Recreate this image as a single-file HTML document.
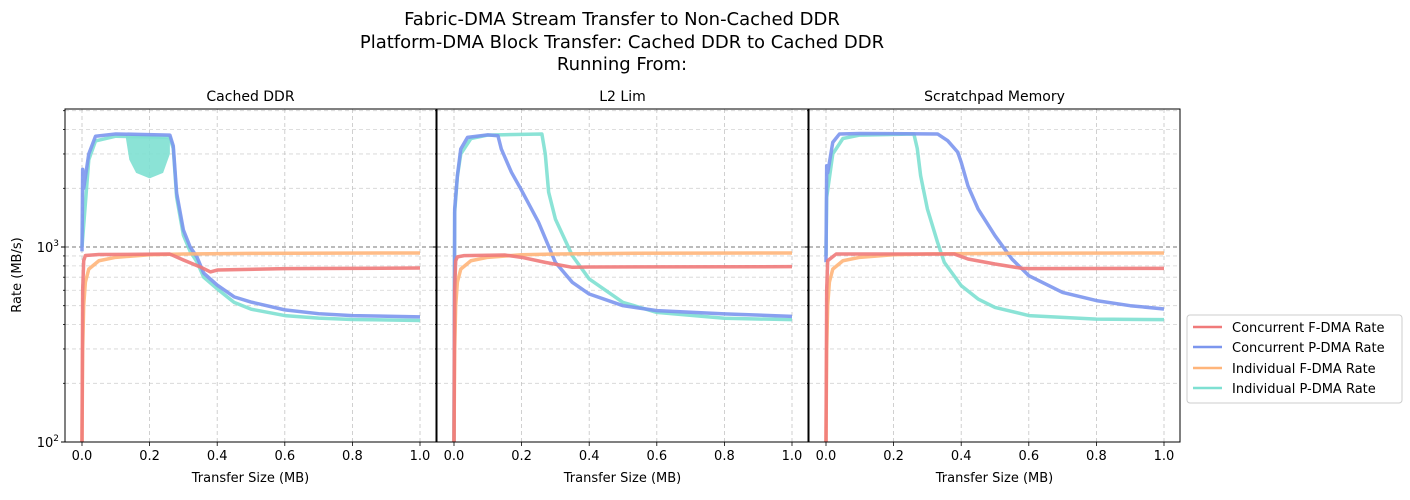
<!DOCTYPE html>
<html><head><meta charset="utf-8"><style>
body{margin:0;background:#fff;}
svg{font-family:"DejaVu Sans","Liberation Sans",sans-serif;}
</style></head><body>
<svg id="chart" width="1410" height="495" viewBox="0 0 1410 495" xmlns="http://www.w3.org/2000/svg">
<text x="622" y="25" font-size="18" text-anchor="middle">Fabric-DMA Stream Transfer to Non-Cached DDR</text>
<text x="622" y="48" font-size="18" text-anchor="middle">Platform-DMA Block Transfer: Cached DDR to Cached DDR</text>
<text x="622" y="70" font-size="18" text-anchor="middle">Running From:</text>
<text transform="translate(21,275) rotate(-90)" font-size="13" text-anchor="middle">Rate (MB/s)</text>
<g id="panels"></g>
<g>
<rect x="1187" y="315" width="215" height="88" rx="3" fill="#fff" stroke="#ccc"/>
<line x1="1193" y1="327" x2="1222" y2="327" stroke="#f07a7a" stroke-width="2.5"/>
<text x="1232" y="332" font-size="13">Concurrent F-DMA Rate</text>
<line x1="1193" y1="347" x2="1222" y2="347" stroke="#7c96ee" stroke-width="2.5"/>
<text x="1232" y="352" font-size="13">Concurrent P-DMA Rate</text>
<line x1="1193" y1="368" x2="1222" y2="368" stroke="#ffb57a" stroke-width="2.5"/>
<text x="1232" y="373" font-size="13">Individual F-DMA Rate</text>
<line x1="1193" y1="388" x2="1222" y2="388" stroke="#7ee0d2" stroke-width="2.5"/>
<text x="1232" y="393" font-size="13">Individual P-DMA Rate</text>
</g>
</svg>
<script>
const panelTitles = ["Cached DDR","L2 Lim","Scratchpad Memory"];
const xTicks = [0,0.2,0.4,0.6,0.8,1.0];
const xTickLabels = ["0.0","0.2","0.4","0.6","0.8","1.0"];
const indF_x = [0,0.002,0.005,0.01,0.02,0.05,0.1,0.2,0.3,0.5,1.0];
const indF_y = [100,300,500,660,770,850,885,913,920,928,932];
const p1cF_x = [0,0.002,0.005,0.01,0.05,0.26,0.3,0.35,0.38,0.4,0.6,1.0];
const p1cF_y = [100,600,850,905,915,920,858,790,745,762,775,780];
const p1cP_x = [0,0.002,0.005,0.02,0.04,0.1,0.26,0.27,0.28,0.3,0.32,0.34,0.36,0.4,0.45,0.5,0.6,0.7,0.8,1.0];
const p1cP_y = [950,2500,2000,3000,3700,3800,3750,3300,1890,1222,1000,890,735,638,555,522,476,455,445,438];
const p1iP_x = [0,0.02,0.04,0.1,0.26,0.27,0.28,0.3,0.32,0.34,0.36,0.4,0.45,0.5,0.6,0.7,0.8,1.0];
const p1iP_y = [1000,2800,3500,3700,3650,3200,1800,1150,950,840,700,610,520,480,445,432,425,420];
const p1band_x = [0.13,0.14,0.16,0.2,0.24,0.26];
const p1band_hi = [3700,3700,3700,3700,3650,3600];
const p1band_lo = [3600,2800,2400,2250,2400,3000];
const p2cF_x = [0,0.002,0.005,0.01,0.03,0.15,0.2,0.27,0.35,0.4,1.0];
const p2cF_y = [100,600,850,890,903,910,885,834,787,790,793];
const p2cP_x = [0,0.002,0.01,0.02,0.04,0.1,0.13,0.14,0.17,0.2,0.25,0.3,0.35,0.4,0.5,0.6,0.8,1.0];
const p2cP_y = [100,1566,2320,3180,3650,3760,3720,3180,2415,1950,1340,834,659,574,500,472,454,441];
const p2iP_x = [0,0.002,0.01,0.02,0.05,0.1,0.26,0.27,0.28,0.3,0.35,0.4,0.5,0.6,0.8,1.0];
const p2iP_y = [100,1500,2300,3000,3600,3750,3800,3000,1910,1390,903,686,520,462,431,424];
const p3cF_x = [0,0.002,0.005,0.03,0.38,0.42,0.5,0.58,0.6,1.0];
const p3cF_y = [100,600,850,920,920,868,818,777,775,777];
const p3cP_x = [0,0.002,0.005,0.02,0.04,0.1,0.33,0.36,0.39,0.4,0.42,0.45,0.5,0.55,0.6,0.7,0.8,0.9,1.0];
const p3cP_y = [835,2610,2400,3440,3800,3820,3800,3510,3060,2720,2060,1566,1143,868,713,585,531,500,481];
const p3iP_x = [0,0.002,0.02,0.05,0.1,0.26,0.27,0.28,0.3,0.33,0.35,0.4,0.45,0.5,0.6,0.8,1.0];
const p3iP_y = [900,1800,3000,3600,3750,3800,3200,2320,1566,1057,834,634,541,490,445,427,424];

const NS="http://www.w3.org/2000/svg";
const panelsG=document.getElementById('panels');
const lefts=[65,437,809], W=371, TOP=109, BOT=442;
const yLogTop=3+(247-TOP)/195;
function yScale(v){return BOT-(Math.log10(v)-2)/(yLogTop-2)*(BOT-TOP);}
function mk(tag,attrs,parent){const e=document.createElementNS(NS,tag);for(const k in attrs)e.setAttribute(k,attrs[k]);parent.appendChild(e);return e;}
const series=[
 [[p1cF_x,p1cF_y],[p1cP_x,p1cP_y],[indF_x,indF_y],[p1iP_x,p1iP_y]],
 [[p2cF_x,p2cF_y],[p2cP_x,p2cP_y],[indF_x,indF_y],[p2iP_x,p2iP_y]],
 [[p3cF_x,p3cF_y],[p3cP_x,p3cP_y],[indF_x,indF_y],[p3iP_x,p3iP_y]]];
const colors=["#f07a7a","#7c96ee","#ffb57a","#7ee0d2"];
const names=["concurrent-fdma-line","concurrent-pdma-line","individual-fdma-line","individual-pdma-line"];
const order=[3,1,2,0];
lefts.forEach((L,pi)=>{
 const g=mk('g',{},panelsG);
 
 
 const xs=v=>L+17+v*338;
 const t=mk('text',{x:L+W/2,y:101,'font-size':14,'text-anchor':'middle'},g);
 t.textContent=panelTitles[pi];
 
 
 const minors=[200,300,400,500,600,700,800,900,2000,3000,4000,5000];
 minors.forEach(v=>{const y=yScale(v);if(y<TOP)return;
  mk('line',{x1:L,x2:L+W,y1:y,y2:y,stroke:'#d4d4d4','stroke-dasharray':'4,3','stroke-width':0.8},g);
  mk('line',{x1:L,x2:L-2,y1:y,y2:y,stroke:'#000','stroke-width':0.8},g);});
 mk('line',{x1:L,x2:L+W,y1:yScale(1000),y2:yScale(1000),stroke:'#777','stroke-dasharray':'4,3','stroke-width':0.9},g);
 xTicks.forEach((v,i)=>{const x=xs(v);
  mk('line',{x1:x,x2:x,y1:TOP,y2:BOT,stroke:'#c4c4c4','stroke-dasharray':'4,3','stroke-width':0.8},g);
  mk('line',{x1:x,x2:x,y1:BOT,y2:BOT+4,stroke:'#000','stroke-width':0.8},g);
  const tl=mk('text',{x:x,y:BOT+18,'font-size':13,'text-anchor':'middle'},g);
  tl.textContent=xTickLabels[i];});
 const xl=mk('text',{x:L+W/2,y:482,'font-size':13,'text-anchor':'middle'},g);
 xl.textContent="Transfer Size (MB)";
 
 
 if(pi===0){
  let pts=p1band_x.map((x,i)=>xs(x)+','+yScale(p1band_hi[i]));
  pts=pts.concat(p1band_x.map((x,i)=>xs(x)+','+yScale(p1band_lo[i])).reverse());
  const b=mk('polygon',{points:pts.join(' '),fill:'#7ee0d2','fill-opacity':0.9},g);
  
  
 }
 order.forEach(si=>{const [X,Y]=series[pi][si];
  const pl=mk('polyline',{points:X.map((x,i)=>xs(x)+','+yScale(Y[i])).join(' '),fill:'none',stroke:colors[si],'stroke-width':3.5,'stroke-opacity':0.9,'stroke-linejoin':'round'},g);
  
  });
 mk('rect',{x:L,y:TOP,width:W,height:BOT-TOP,fill:'none',stroke:'#000','stroke-width':1},g);
 [100,1000].forEach(v=>{mk('line',{x1:L,x2:L-4,y1:yScale(v),y2:yScale(v),stroke:'#000'},g);});
 if(pi===0){
  [[100,'2'],[1000,'3']].forEach(([v,e])=>{const tx=mk('text',{x:L-6,y:yScale(v)+5,'font-size':13,'text-anchor':'end'},g);
   tx.innerHTML='10<tspan dy="-6" font-size="9">'+e+'</tspan>';});
 }
});
</script>
</body></html>
